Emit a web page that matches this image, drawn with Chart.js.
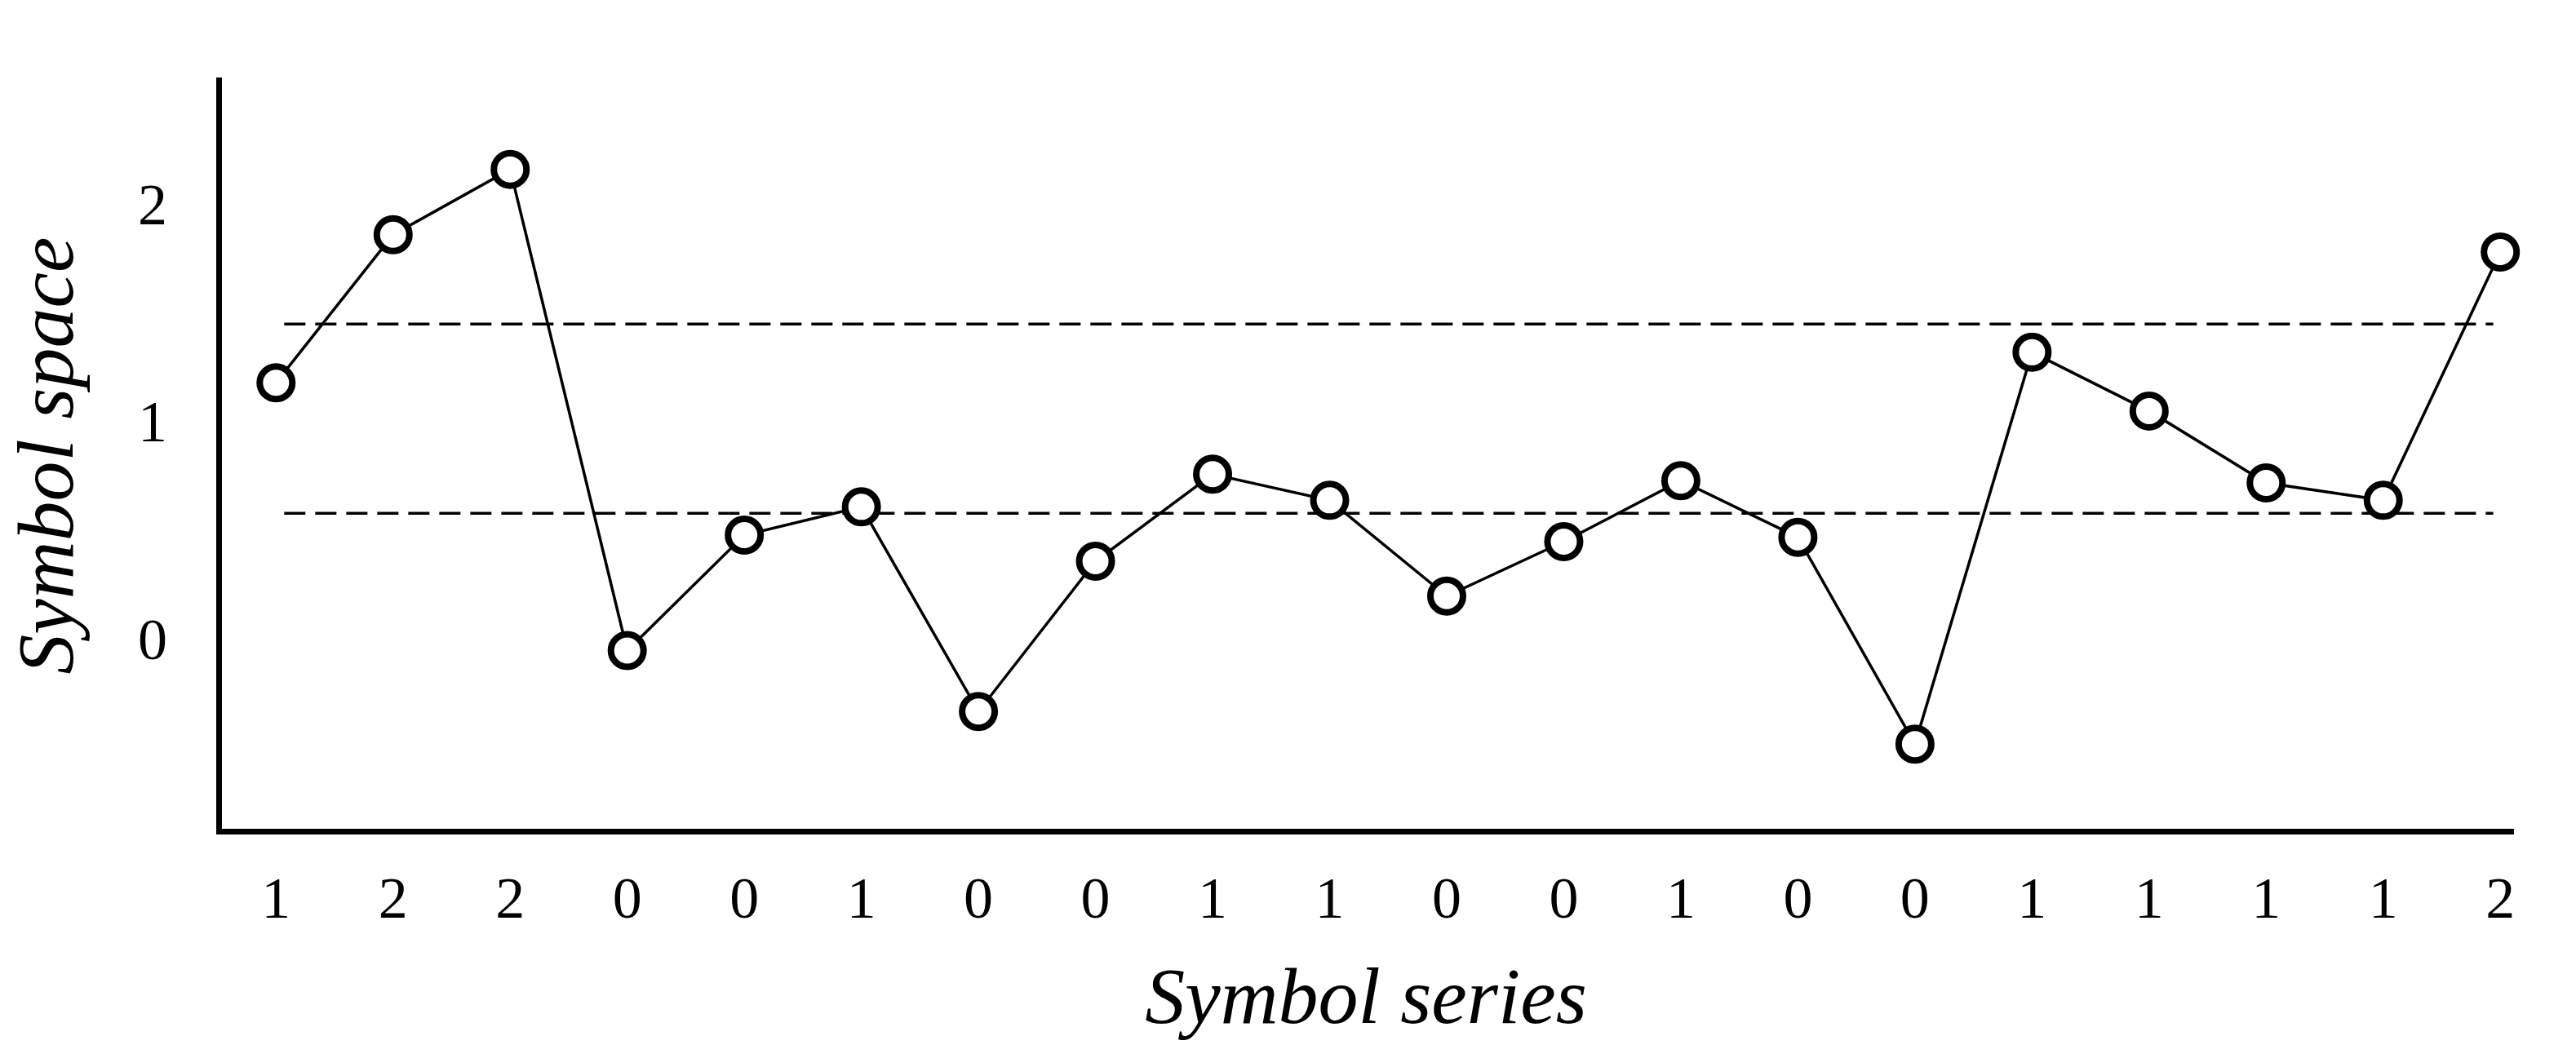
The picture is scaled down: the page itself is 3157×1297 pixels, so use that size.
<!DOCTYPE html>
<html>
<head>
<meta charset="utf-8">
<script src="https://cdn.jsdelivr.net/npm/chart.js@4/dist/chart.umd.min.js"></script>
<style>
  html, body { margin: 0; padding: 0; background: #fff; }
  #wrap { width: 3157px; height: 1297px; }
</style>
</head>
<body>
<div id="wrap"><canvas id="symbolChart"></canvas></div>
<script>
// symbol series shown under each point
const symbols = [1, 2, 2, 0, 0, 1, 0, 0, 1, 1, 0, 0, 1, 0, 0, 1, 1, 1, 1, 2];
// value in symbol space for each point
const values = [1.20, 1.88, 2.18, -0.03, 0.50, 0.63, -0.31, 0.38, 0.78, 0.66,
                0.22, 0.47, 0.75, 0.49, -0.46, 1.34, 1.07, 0.74, 0.66, 1.80];
// dashed threshold levels and their start/end positions
const thresholds = [1.47, 0.60];
const thresholdSpan = [0.07, 18.94];
const yTicks = [0, 1, 2];

const serif = "'Liberation Serif', 'DejaVu Serif', serif";

const thresholdSets = thresholds.map(level => ({
  data: thresholdSpan.map(x => ({ x: x, y: level })),
  borderColor: "#000",
  borderWidth: 3.5,
  borderDash: [26, 12],
  pointRadius: 0,
  fill: false,
}));

new Chart("symbolChart", {
  type: "line",
  data: {
    datasets: [
      {
        data: values.map((v, i) => ({ x: i, y: v })),
        borderColor: "#000",
        borderWidth: 3.5,
        pointRadius: 20,
        pointBorderWidth: 8,
        pointBackgroundColor: "#fff",
        pointBorderColor: "#000",
        fill: false,
        clip: false,
      },
      ...thresholdSets,
    ],
  },
  options: {
    responsive: true,
    maintainAspectRatio: false,
    animation: false,
    layout: { autoPadding: false, padding: { top: 24, right: 77, left: 0, bottom: 0 } },
    plugins: { legend: { display: false }, tooltip: { enabled: false } },
    scales: {
      x: {
        type: "linear",
        min: -0.49,
        max: 19.11,
        afterBuildTicks: axis => { axis.ticks = symbols.map((s, i) => ({ value: i })); },
        afterFit: axis => { axis.height = 278; },
        ticks: {
          autoSkip: false,
          maxRotation: 0,
          padding: 36,
          color: "#000",
          font: { family: serif, size: 72 },
          callback: value => symbols[value],
        },
        grid: { display: false },
        border: { display: true, width: 7, color: "#000" },
        title: {
          display: true,
          text: "Symbol series",
          color: "#000",
          font: { family: serif, size: 98, style: "italic" },
          padding: { top: 0, bottom: 10 },
        },
      },
      y: {
        min: -0.86,
        max: 2.59,
        afterBuildTicks: axis => { axis.ticks = yTicks.map(v => ({ value: v })); },
        afterFit: axis => { axis.width = 268; },
        ticks: {
          padding: 55,
          color: "#000",
          font: { family: serif, size: 72 },
        },
        grid: { display: false },
        border: { display: true, width: 7, color: "#000" },
        title: {
          display: true,
          text: "Symbol space",
          color: "#000",
          font: { family: serif, size: 98, style: "italic" },
          padding: { top: 4, bottom: 0 },
        },
      },
    },
  },
});
</script>
</body>
</html>
